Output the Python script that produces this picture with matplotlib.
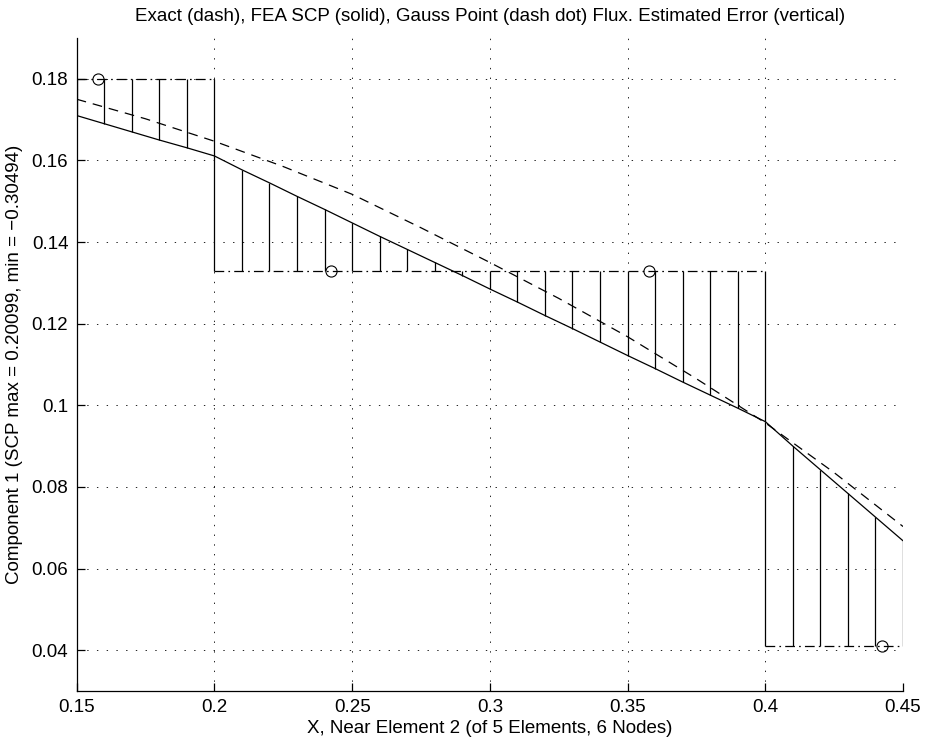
import matplotlib
matplotlib.use("Agg")
import matplotlib.pyplot as plt

plt.rcParams['font.family'] = ['Liberation Sans', 'DejaVu Sans']
plt.rcParams['lines.scale_dashes'] = False

# Sample locations of the smoothed (SCP) flux, spacing 0.01
x_samples = [0.15, 0.16, 0.17, 0.18, 0.19, 0.20, 0.21, 0.22, 0.23, 0.24,
             0.25, 0.26, 0.27, 0.28, 0.29, 0.30, 0.31, 0.32, 0.33, 0.34,
             0.35, 0.36, 0.37, 0.38, 0.39, 0.40, 0.41, 0.42, 0.43, 0.44, 0.45]
scp_flux = [0.1710, 0.1690, 0.1670, 0.1650, 0.1631, 0.1611, 0.1577, 0.1545,
            0.1512, 0.1480, 0.1447, 0.1414, 0.1382, 0.1350, 0.1318, 0.1285,
            0.1253, 0.1220, 0.1188, 0.1155, 0.1122, 0.1090, 0.1057, 0.1025,
            0.0993, 0.0960, 0.0900, 0.0842, 0.0784, 0.0726, 0.0668]

# Exact flux
x_exact = [0.15, 0.175, 0.2, 0.225, 0.25, 0.275, 0.3, 0.325, 0.35, 0.375,
           0.4, 0.425, 0.45]
exact_flux = [0.1750, 0.1702, 0.1647, 0.1585, 0.1517, 0.1435, 0.1350, 0.1262,
              0.1168, 0.1065, 0.0957, 0.0835, 0.0703]

# Element-wise constant Gauss point flux (visible part of each element)
elem_start = [0.15, 0.20, 0.40]
elem_end = [0.20, 0.40, 0.45]
elem_flux = [0.180, 0.133, 0.041]

# Gauss points
gauss_x = [0.1577, 0.2423, 0.3577, 0.4423]
gauss_flux = [0.180, 0.133, 0.133, 0.041]

xticks = [0.15, 0.2, 0.25, 0.3, 0.35, 0.4, 0.45]
xticklabels = ['0.15', '0.2', '0.25', '0.3', '0.35', '0.4', '0.45']
yticks = [0.04, 0.06, 0.08, 0.1, 0.12, 0.14, 0.16, 0.18]
yticklabels = ['0.04', '0.06', '0.08', '0.1', '0.12', '0.14', '0.16', '0.18']

fig = plt.figure(figsize=(9.26, 7.45), dpi=100)
ax = fig.add_axes([0.0828, 0.0725, 0.8924, 0.8765])

# Estimated error: vertical segments from SCP to Gauss flux in each element
for xs, xe, gf in zip(elem_start, elem_end, elem_flux):
    for xv, sv in zip(x_samples, scp_flux):
        if xs - 1e-9 <= xv <= xe + 1e-9:
            ax.plot([xv, xv], [sv, gf], color='black', lw=0.9,
                    solid_capstyle='butt')

# Gauss point flux (dash dot)
for xs, xe, gf in zip(elem_start, elem_end, elem_flux):
    ax.plot([xs, xe], [gf, gf], color='black', lw=0.9,
            linestyle=(0, (7, 3, 1.2, 3)))

# SCP flux (solid)
ax.plot(x_samples, scp_flux, color='black', lw=0.9)

# Exact flux (dash)
ax.plot(x_exact, exact_flux, color='black', lw=0.9, linestyle=(0, (7, 5)))

# Gauss point markers
ax.plot(gauss_x, gauss_flux, linestyle='none', marker='o', markersize=8,
        markerfacecolor='none', markeredgecolor='black', markeredgewidth=0.8)

ax.set_xlim(0.15, 0.45)
ax.set_ylim(0.03, 0.19)
ax.set_xticks(xticks)
ax.set_xticklabels(xticklabels)
ax.set_yticks(yticks)
ax.set_yticklabels(yticklabels)

ax.grid(True, color='black', linestyle=(0, (1, 6)), linewidth=0.6)
for side in ['top', 'right']:
    ax.spines[side].set_visible(False)
for side in ['left', 'bottom']:
    ax.spines[side].set_linewidth(0.9)
ax.tick_params(direction='in', length=6, width=0.9, labelsize=13.5,
               top=False, right=False, pad=6)

ax.set_title('Exact (dash), FEA SCP (solid), Gauss Point (dash dot) Flux. '
             'Estimated Error (vertical)', fontsize=13.5, pad=12)
ax.set_xlabel('X, Near Element 2 (of 5 Elements, 6 Nodes)', fontsize=13.5,
              labelpad=3)
ax.set_ylabel('Component 1 (SCP max = 0.20099, min = \u22120.30494)',
              fontsize=13.5, labelpad=6)

fig.savefig('out.png', dpi=100)
